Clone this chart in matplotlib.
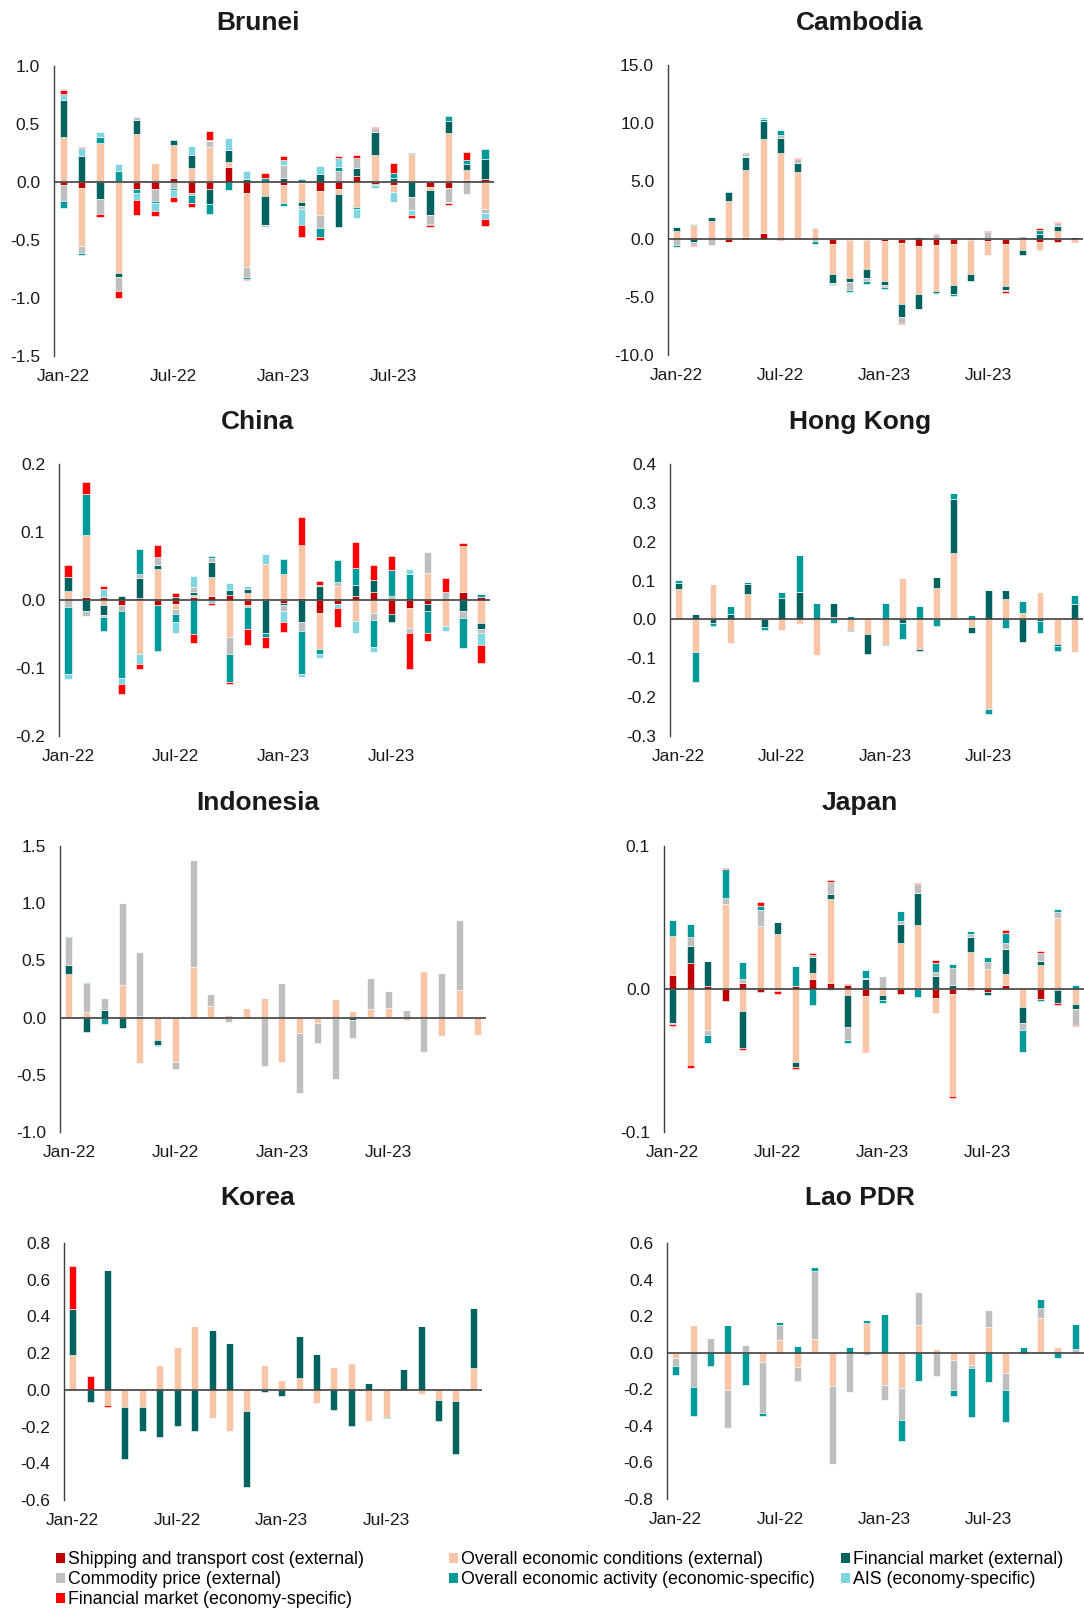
import matplotlib
matplotlib.use("Agg")
import numpy as np
import matplotlib.pyplot as plt
from matplotlib.patches import Patch

plt.rcParams["font.family"] = ["Liberation Sans", "DejaVu Sans"]
plt.rcParams["axes.unicode_minus"] = False

# months Jan-22 .. Dec-23, labels only every 6 months
months = ["Jan-22", "Feb-22", "Mar-22", "Apr-22", "May-22", "Jun-22",
          "Jul-22", "Aug-22", "Sep-22", "Oct-22", "Nov-22", "Dec-22",
          "Jan-23", "Feb-23", "Mar-23", "Apr-23", "May-23", "Jun-23",
          "Jul-23", "Aug-23", "Sep-23", "Oct-23", "Nov-23", "Dec-23"]
shown_ticks = ["Jan-22", "Jul-22", "Jan-23", "Jul-23"]

series_names = [
    "Shipping and transport cost (external)",
    "Overall economic conditions (external)",
    "Financial market (external)",
    "Commodity price (external)",
    "Overall economic activity (economic-specific)",
    "AIS (economy-specific)",
    "Financial market (economy-specific)",
]
series_colors = ["#C00000", "#F8C5A6", "#00625E", "#BFBFBF",
                 "#009A9A", "#7FD5E0", "#FF0000"]

# rows follow series_names order
brunei = [
    [-0.026, -0.05, 0, 0.005, -0.058, -0.063, 0.037, -0.098, -0.06, 0.13, -0.092, 0,
     -0.03, -0.005, -0.078, -0.063, 0.052, -0.014, -0.026, 0, -0.043, -0.052, 0.017, 0.03],
    [0.39, -0.505, 0.34, -0.785, 0.413, 0.167, 0.283, 0.118, 0.3, 0.04, -0.644, -0.12,
     -0.15, -0.17, -0.208, -0.043, -0.216, 0.234, -0.06, 0.24, -0.03, 0.42, 0.084, -0.234],
    [0.315, 0.225, -0.144, -0.03, 0.124, 0, 0.04, 0.115, -0.13, 0.11, 0.03, -0.25,
     0.035, -0.03, 0.066, -0.28, 0.072, 0.193, 0.037, -0.127, -0.21, 0.11, 0.058, 0.167],
    [-0.14, -0.058, -0.136, -0.124, 0.026, -0.1, -0.055, -0.014, 0.052, 0, -0.084, -0.017,
     0.113, -0.03, -0.11, 0.095, 0.084, 0.035, 0, -0.118, -0.075, -0.118, -0.1, -0.035],
    [-0.058, -0.02, 0.049, 0.09, -0.035, -0.017, -0.012, -0.066, -0.09, -0.065, -0.017, 0.037,
     -0.023, 0.023, -0.08, 0.037, -0.014, -0.012, 0.043, 0.006, -0.014, 0.035, 0.03, 0.087],
    [0.052, 0.066, 0.043, 0.063, -0.058, -0.07, -0.06, 0.075, 0.012, 0.098, 0.066, 0,
     0.04, -0.14, 0.07, 0.078, -0.078, -0.023, -0.087, -0.04, 0, -0.012, 0, -0.052],
    [0.035, 0.012, -0.02, -0.063, -0.136, -0.043, -0.043, -0.037, 0.075, 0, -0.012, 0.04,
     0.037, -0.1, -0.023, 0.014, 0.026, 0.008, 0.087, -0.023, -0.014, -0.017, 0.066, -0.058],
]

cambodia = [
    [0, 0, 0, -0.23, 0.2, 0.49, -0.11, 0.11, 0, -0.4, -0.06, -0.11,
     -0.2, -0.37, -0.57, -0.54, -0.43, -0.11, -0.14, -0.4, 0, -0.23, -0.29, 0],
    [0.72, 1.23, 1.52, 3.24, 5.76, 8.11, 7.45, 5.64, 0.95, -2.66, -3.3, -2.46,
     -3.38, -5.27, -4.21, -3.9, -3.52, -2.89, -1.23, -3.61, -0.92, -0.74, 0.66, -0.2],
    [0.29, -0.29, 0.34, 0.77, 1.09, 1.58, 1.23, 0.83, 0, -0.72, -0.37, -0.83,
     -0.4, -1.09, -1.23, -0.2, -0.83, -0.63, 0, -0.4, -0.49, 0.46, 0.49, 0.14],
    [-0.55, -0.2, -0.49, -0.06, 0.11, 0, 0.29, 0.29, -0.2, -0.08, -0.63, -0.23,
     -0.17, -0.49, -0.11, 0.34, 0.14, 0.2, 0.63, -0.09, 0.29, 0, 0.2, 0],
    [-0.12, 0.08, 0, 0.11, 0, 0.15, 0.4, 0, -0.2, -0.1, -0.23, -0.26,
     -0.2, 0, 0.14, -0.09, -0.14, 0, 0, 0, 0, 0.34, 0, 0],
    [0.05, 0, 0, 0, 0.14, 0.17, 0, 0, 0.05, 0, 0, 0,
     0, 0, 0, 0, 0, 0, 0, 0, 0, 0, 0, 0],
    [-0.05, -0.14, 0.05, 0, 0.09, 0, 0, 0.09, 0, 0, 0, 0,
     0, -0.09, 0, 0.09, 0, 0, 0.09, -0.17, 0, 0.14, 0.14, -0.05],
]

china = [
    [0, 0.005, 0.005, -0.008, 0.003, -0.008, -0.006, 0.004, 0.006, 0.007, -0.007, 0,
     -0.004, 0.003, -0.019, -0.006, 0.006, 0.012, -0.02, -0.012, -0.006, 0, 0.012, 0.005],
    [0.013, 0.091, -0.008, 0, -0.079, 0.046, -0.007, 0.003, 0.028, -0.054, 0.011, 0.053,
     0.038, 0.078, -0.053, 0.021, -0.031, -0.019, 0, -0.029, 0.039, -0.038, 0.068, -0.034],
    [0.021, -0.016, -0.014, 0.006, 0.029, 0.006, 0.005, 0.005, 0.022, 0.008, 0.005, -0.049,
     -0.004, -0.032, 0.02, 0, 0.016, 0.017, -0.012, 0, -0.01, 0, -0.016, -0.009],
    [-0.01, -0.007, -0.003, -0.008, 0.006, 0.011, -0.007, 0.007, 0.006, -0.025, -0.003, 0,
     -0.008, -0.013, 0.002, 0.006, 0, -0.011, 0.006, -0.007, 0.032, 0.012, -0.011, -0.005],
    [-0.099, 0.06, -0.02, -0.098, 0.037, -0.067, -0.013, -0.05, 0.003, -0.042, -0.032, -0.006,
     0.023, -0.064, -0.008, 0.032, 0.025, -0.039, 0.038, 0.038, -0.033, 0, -0.044, 0.004],
    [-0.007, 0, 0.011, -0.01, -0.015, 0, -0.015, 0.016, -0.005, 0.01, 0.005, 0.014,
     -0.017, -0.004, -0.006, -0.006, -0.018, -0.007, 0, 0.007, 0, -0.008, 0, -0.018],
    [0.018, 0.018, 0.004, -0.014, -0.008, 0.018, 0.005, -0.013, -0.002, -0.002, -0.024, -0.015,
     -0.014, 0.041, 0.006, -0.028, 0.039, 0.023, 0.02, -0.053, -0.011, 0.021, 0.004, -0.026],
]

hong_kong = [
    [0, 0, 0, 0, 0, 0, 0, 0, 0, 0, 0, 0,
     0, 0, 0, 0, 0, 0, 0, 0, 0, 0, 0, 0],
    [0.078, -0.083, 0.091, -0.06, 0.065, 0, -0.026, -0.012, -0.092, 0.005, -0.026, -0.038,
     -0.062, 0.107, -0.075, 0.082, 0.172, -0.019, -0.23, 0.052, 0.017, 0.071, -0.062, -0.083],
    [0.015, 0.015, -0.009, 0.015, 0.026, -0.019, 0.056, 0.07, 0, 0.036, -0.004, -0.05,
     -0.003, -0.01, -0.006, 0.026, 0.139, -0.017, 0.076, 0.024, -0.059, -0.005, -0.007, 0.04],
    [0, 0, 0, 0, 0, 0, 0, 0, 0, 0, 0, 0,
     0, 0, 0, 0, 0, 0, 0, 0, 0, 0, 0, 0],
    [0.009, -0.077, -0.009, 0.019, 0.005, -0.009, 0.014, 0.095, 0.043, -0.008, 0.01, 0,
     0.043, -0.041, 0.034, -0.017, 0.015, 0.011, -0.013, -0.023, 0.031, -0.031, -0.012, 0.023],
    [0, 0, 0, 0, 0, 0, 0, 0, 0, 0, 0, 0,
     0, 0, 0, 0, 0, 0, 0, 0, 0, 0, 0, 0],
    [0, 0, 0, 0, 0, 0, 0, 0, 0, 0, 0, 0,
     0, 0, 0, 0, 0, 0, 0, 0, 0, 0, 0, 0],
]

indonesia = [
    [0, 0, 0, 0, 0, 0, 0, 0, 0, 0, 0, 0,
     0, 0, 0, 0, 0, 0, 0, 0, 0, 0, 0, 0],
    [0.38, 0.052, 0, 0.286, -0.4, -0.2, -0.385, 0.44, 0.102, 0.023, 0.082, 0.169,
     -0.39, -0.131, -0.05, 0.163, 0.058, 0.073, 0.082, -0.02, 0.405, -0.163, 0.242, -0.152],
    [0.079, -0.122, 0.067, -0.093, 0.015, -0.038, 0, 0, 0, 0, 0, 0,
     0, 0, 0, 0, -0.02, 0, 0, 0, 0, 0, 0, 0],
    [0.248, 0.254, 0.1, 0.72, 0.556, 0, -0.064, 0.938, 0.102, -0.04, 0, -0.422,
     0.3, -0.53, -0.169, -0.533, -0.155, 0.274, 0.149, 0.067, -0.297, 0.393, 0.612, 0],
    [0.006, 0.006, -0.058, 0, 0, -0.009, 0, 0, 0, 0, 0, 0,
     0, 0, 0, 0, 0, 0, 0, 0, 0, 0, 0, 0],
    [0, 0, 0, 0, 0, 0, 0, 0, 0, 0, 0, 0,
     0, 0, 0, 0, 0, 0, 0, 0, 0, 0, 0, 0],
    [0, 0, 0, 0, 0, 0, 0, 0, 0, 0, 0, 0,
     0, 0, 0, 0, 0, 0, 0, 0, 0, 0, 0, 0],
]

japan = [
    [0.0098, 0.018, 0.002, -0.0084, 0.0044, -0.002, -0.001, 0.0023, 0.007, 0.004, 0.0028, -0.0047,
     0, -0.0037, 0, -0.006, -0.0035, 0.0016, -0.0019, 0.0028, 0.001, -0.007, -0.0005, 0],
    [0.027, -0.053, -0.0287, 0.0595, -0.0154, 0.0436, 0.0385, -0.0509, 0.0044, 0.059, -0.0042, -0.039,
     -0.0042, 0.032, 0.0448, -0.011, -0.0712, 0.0245, 0.014, 0.0077, -0.0124, 0.0168, 0.0495, -0.0107],
    [-0.0236, 0.012, 0.0175, 0, -0.026, 0.0005, 0.0082, -0.0035, 0.0112, 0.0035, -0.0222, 0.007,
     -0.0035, 0.0135, 0.0226, 0.0093, 0.0028, 0.0105, -0.0026, 0.0173, -0.0117, 0.003, -0.0093, -0.0035],
    [-0.0012, 0.0065, -0.0035, 0.0044, 0.0026, 0.0112, -0.0007, 0, 0.0012, 0.008, -0.0093, 0.0009,
     0.0091, 0.0023, 0.006, 0.0023, 0.0117, 0.0019, 0.0051, 0.0042, -0.0047, 0.0056, 0.0044, -0.011],
    [0.0117, 0.0093, -0.0054, 0.0198, 0.012, 0.0028, 0, 0.0138, -0.0112, -0.001, -0.0019, 0.0054,
     -0.0019, 0.007, -0.0054, 0.0063, 0.0028, 0.0023, 0.0035, 0.0075, -0.0152, -0.0012, 0.0019, 0.0028],
    [0, 0, 0, 0, 0, 0, 0, 0, 0, 0, 0, 0,
     0, 0, 0, 0, 0, 0, 0, 0, 0, 0, 0, 0],
    [-0.001, -0.002, 0, 0.0007, -0.0012, 0.0026, -0.0018, -0.0014, 0.0012, 0.0019, 0.0007, -0.0005,
     0, 0, 0.0009, 0.0023, -0.0012, -0.001, 0, 0.0019, 0, 0.0009, -0.0012, -0.0007],
]

korea = [
    [0, 0, 0, 0, 0, 0, 0, 0, 0, 0, 0, 0,
     0, 0, 0, 0, 0, 0, 0, 0, 0, 0, 0, 0],
    [0.189, 0, -0.082, -0.095, -0.095, 0.133, 0.231, 0.347, -0.153, -0.222, -0.113, 0.138,
     0.056, 0.065, -0.069, 0.122, 0.147, -0.171, -0.147, 0, -0.022, -0.055, -0.058, 0.118],
    [0.253, -0.067, 0.651, -0.282, -0.131, -0.255, -0.198, -0.225, 0.324, 0.253, -0.418, -0.013,
     -0.035, 0.227, 0.196, -0.109, -0.195, 0.035, -0.005, 0.116, 0.349, -0.116, -0.293, 0.327],
    [0, 0, 0, 0, 0, 0, 0, 0, 0, 0, 0, 0,
     0, 0, 0, 0, 0, 0, 0, 0, 0, 0, 0, 0],
    [0, 0, 0, 0, 0, 0, 0, 0, 0, 0, 0, 0,
     0, 0, 0, 0, 0, 0, 0, 0, 0, 0, 0, 0],
    [0, 0, 0, 0, 0, 0, 0, 0, 0, 0, 0, 0,
     0, 0, 0, 0, 0, 0, 0, 0, 0, 0, 0, 0],
    [0.233, 0.076, -0.013, 0, 0, 0, 0, 0, 0, 0, 0, 0,
     0, 0, 0, 0, 0, 0, 0, 0, 0, 0, 0, 0],
]

lao = [
    [0, 0, 0, 0, 0, 0, 0, 0, 0, 0, 0, 0,
     0, 0, 0, 0, 0, 0, 0, 0, 0, 0, 0, 0],
    [-0.027, 0.149, 0, -0.203, 0, -0.049, 0.069, -0.076, 0.074, -0.18, 0, 0.163,
     -0.176, -0.194, 0.151, 0.02, -0.04, -0.067, 0.142, -0.109, 0, 0.192, 0.033, 0],
    [0, 0, 0, 0, 0, 0, 0, 0, 0, 0, 0, 0,
     0, 0, 0, 0, 0, 0, 0, 0, 0, 0, 0, 0],
    [-0.044, -0.187, 0.078, -0.21, 0.042, -0.281, 0.085, -0.078, 0.372, -0.427, -0.216, -0.013,
     -0.082, -0.176, 0.18, -0.125, -0.165, -0.018, 0.094, -0.096, -0.009, 0.051, 0, 0.02],
    [-0.051, -0.161, -0.073, 0.154, -0.176, -0.018, 0.015, 0.036, 0.025, -0.004, 0.033, 0.015,
     0.214, -0.114, -0.154, 0, -0.029, -0.267, -0.162, -0.176, 0.029, 0.053, -0.027, 0.136],
    [0, 0, 0, 0, 0, 0, 0, 0, 0, 0, 0, 0,
     0, 0, 0, 0, 0, 0, 0, 0, 0, 0, 0, 0],
    [0, 0, 0, 0, 0, 0, 0, 0, 0, 0, 0, 0,
     0, 0, 0, 0, 0, 0, 0, 0, 0, 0, 0, 0],
]

W, H = 1084, 1610
fig = plt.figure(figsize=(W / 100, H / 100), dpi=100)

# (title, data, y range, y step, axes box in pixels: left, top, right, bottom, title centre)
panels = [
    ("Brunei", brunei, (-1.5, 1.0), 0.5, (54, 66, 494, 356), (258, 23)),
    ("Cambodia", cambodia, (-10, 15), 5, (668, 65, 1083, 355), (860, 23)),
    ("China", china, (-0.2, 0.2), 0.1, (59, 464, 490, 736), (258, 422)),
    ("Hong Kong", hong_kong, (-0.3, 0.4), 0.1, (670, 464, 1083, 736), (860, 422)),
    ("Indonesia", indonesia, (-1.0, 1.5), 0.5, (60, 846, 486, 1132), (258, 803)),
    ("Japan", japan, (-0.1, 0.1), 0.1, (664, 846, 1084, 1132), (860, 803)),
    ("Korea", korea, (-0.6, 0.8), 0.2, (64, 1243, 482, 1500), (258, 1198)),
    ("Lao PDR", lao, (-0.8, 0.6), 0.2, (667, 1243, 1084, 1499), (860, 1198)),
]

x = np.arange(len(months))
for title, data, (ymin, ymax), step, (l, t, r, b), (tx, ty) in panels:
    ax = fig.add_axes([l / W, 1 - b / H, (r - l) / W, (b - t) / H])
    vals = np.array(data, dtype=float)
    pos_base = np.zeros(len(months))
    neg_base = np.zeros(len(months))
    for row, color in zip(vals, series_colors):
        bottom = np.where(row >= 0, pos_base, neg_base)
        ax.bar(x, row, 0.4, bottom=bottom, color=color,
               edgecolor="white", linewidth=0.4)
        pos_base += np.clip(row, 0, None)
        neg_base += np.clip(row, None, 0)

    ax.axhline(0, color="#404040", linewidth=1.2, zorder=3)
    ax.set_xlim(-0.5, len(months) - 0.5)
    ax.set_ylim(ymin, ymax)
    yt = np.round(np.arange(ymin, ymax + step / 2, step), 6) + 0.0
    yt[np.abs(yt) < 1e-9] = 0.0
    ax.set_yticks(yt)
    ax.yaxis.set_major_formatter(plt.FormatStrFormatter("%.1f"))
    ax.set_xticks([months.index(m) for m in shown_ticks])
    ax.set_xticklabels(shown_ticks)
    ax.tick_params(axis="both", length=0, labelsize=12.5, colors="#1a1a1a")
    ax.tick_params(axis="y", pad=10)
    ax.tick_params(axis="x", pad=9.5)
    for side in ["top", "right", "bottom"]:
        ax.spines[side].set_visible(False)
    ax.spines["left"].set_color("#404040")
    ax.spines["left"].set_linewidth(1.0)
    ax.patch.set_alpha(0)

    fig.text(tx / W, 1 - ty / H, title, ha="center", va="center",
             fontsize=19, fontweight="bold", color="#1a1a1a")

# legend laid out in three columns, read row by row
legend_cols = [
    ([0, 3, 6], 56),
    ([1, 4], 449),
    ([2, 5], 841),
]
for idx, lx in legend_cols:
    handles = [Patch(facecolor=series_colors[i], edgecolor="none") for i in idx]
    labels = [series_names[i] for i in idx]
    fig.legend(handles, labels, loc="upper left",
               bbox_to_anchor=(lx / W, 1 - 1551 / H),
               frameon=False, fontsize=12.8, handlelength=0.5, handleheight=0.5,
               handletextpad=0.2, labelspacing=0.18, borderpad=0, borderaxespad=0)

fig.savefig("out.png", dpi=100)
